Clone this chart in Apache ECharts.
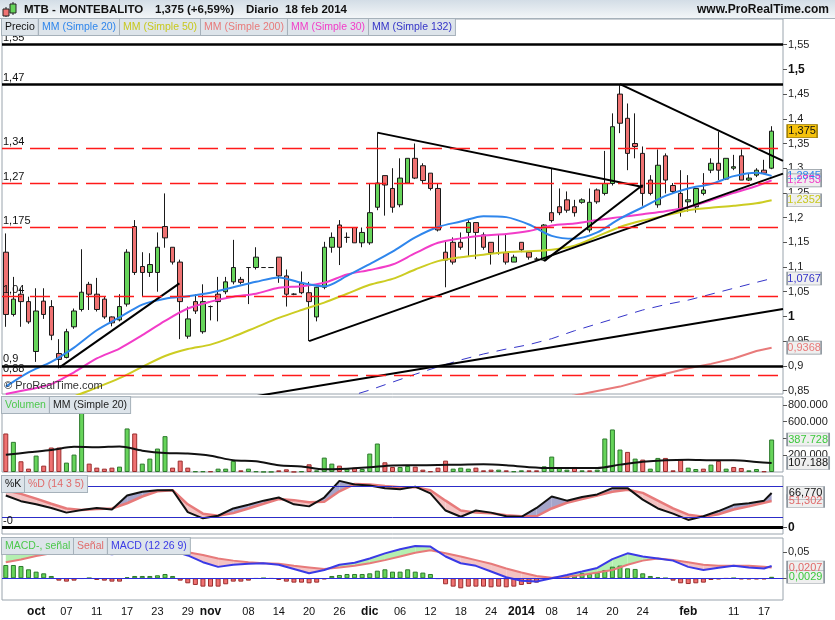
<!DOCTYPE html>
<html>
<head>
<meta charset="utf-8">
<title>MTB - MONTEBALITO</title>
<script src="https://cdn.jsdelivr.net/npm/echarts@6/dist/echarts.min.js"></script>
<style>
  html, body { margin: 0; padding: 0; background: #fff; }
  #chart { width: 835px; height: 620px; }
</style>
</head>
<body>
<div id="chart"></div>
<script>
// trading days shown (Sep 25 2013 -> Feb 18 2014)
const sepDays = [25, 26, 27, 30];
const octDays = [1, 2, 3, 4, 7, 8, 9, 10, 11, 14, 15, 16, 17, 18, 21, 22, 23, 24, 25, 28, 29, 30, 31];
const novDays = [1, 4, 5, 6, 7, 8, 11, 12, 13, 14, 15, 18, 19, 20, 21, 22, 25, 26, 27, 28, 29];
const decDays = [2, 3, 4, 5, 6, 9, 10, 11, 12, 13, 16, 17, 18, 19, 20, 23, 24, 27, 30, 31];
const janDays = [2, 3, 6, 7, 8, 9, 10, 13, 14, 15, 16, 17, 20, 21, 22, 23, 24, 27, 28, 29, 30, 31];
const febDays = [3, 4, 5, 6, 7, 10, 11, 12, 13, 14, 17, 18];

const xTickIdx = [4, 8, 12, 16, 20, 24, 27, 32, 36, 40, 44, 48, 52, 56, 60, 64, 68, 72, 76, 80, 84, 90, 96, 100];
const xTickText = ['oct', '07', '11', '17', '23', '29', 'nov', '08', '14', '20', '26', 'dic', '06', '12', '18', '24', '2014', '08', '14', '20', '24', 'feb', '11', '17'];

// daily candles
const opens = [1.130, 1.004, 1.045, 1.030, 0.929, 1.031, 1.020, 0.925, 0.917, 0.979,
  1.014, 1.065, 1.045, 1.035, 0.999, 0.993, 1.025, 1.182, 1.101, 1.089,
  1.089, 1.182, 1.140, 1.110, 0.960, 1.030, 0.969, 1.020, 1.045, 1.050,
  1.070, 1.075, 1.099, 1.099, 1.099, 1.099, 1.120, 1.082, 1.045, 1.067,
  1.048, 0.999, 1.059, 1.140, 1.185, 1.160, 1.180, 1.149, 1.149, 1.221,
  1.285, 1.259, 1.226, 1.270, 1.320, 1.305, 1.290, 1.259, 1.130, 1.150,
  1.150, 1.170, 1.190, 1.165, 1.150, 1.129, 1.129, 1.110, 1.150, 1.130,
  1.116, 1.114, 1.210, 1.222, 1.236, 1.222, 1.231, 1.175, 1.256, 1.249,
  1.269, 1.450, 1.401, 1.350, 1.330, 1.276, 1.226, 1.325, 1.265, 1.249,
  1.232, 1.222, 1.249, 1.296, 1.310, 1.278, 1.300, 1.325, 1.276, 1.286,
  1.296, 1.300];
const closes = [1.004, 1.035, 1.030, 0.989, 1.011, 1.004, 0.962, 0.913, 0.969, 1.011,
  1.049, 1.045, 1.014, 0.999, 0.987, 1.020, 1.130, 1.089, 1.089, 1.105,
  1.140, 1.159, 1.110, 1.030, 0.995, 1.011, 1.030, 1.020, 1.030, 1.070,
  1.099, 1.069, 1.099, 1.120, 1.099, 1.099, 1.082, 1.045, 1.045, 1.048,
  1.030, 1.059, 1.140, 1.160, 1.140, 1.160, 1.149, 1.170, 1.210, 1.270,
  1.266, 1.221, 1.280, 1.320, 1.280, 1.275, 1.259, 1.175, 1.114, 1.110,
  1.140, 1.190, 1.170, 1.140, 1.129, 1.129, 1.110, 1.120, 1.135, 1.120,
  1.116, 1.185, 1.194, 1.210, 1.215, 1.210, 1.236, 1.231, 1.232, 1.269,
  1.384, 1.391, 1.330, 1.344, 1.249, 1.249, 1.306, 1.276, 1.253, 1.215,
  1.236, 1.259, 1.256, 1.310, 1.296, 1.320, 1.303, 1.276, 1.280, 1.296,
  1.290, 1.375];
const lows = [0.979, 1.000, 0.979, 0.985, 0.908, 0.995, 0.952, 0.895, 0.915, 0.975,
  1.010, 1.013, 1.010, 0.995, 0.980, 0.990, 1.020, 1.084, 1.040, 1.080,
  1.050, 1.139, 1.105, 0.954, 0.955, 1.005, 0.965, 0.992, 0.990, 1.045,
  1.065, 1.065, 1.025, 1.095, 1.098, 1.098, 1.068, 1.020, 1.043, 1.045,
  0.950, 0.990, 1.055, 1.129, 1.104, 1.149, 1.149, 1.140, 1.145, 1.215,
  1.204, 1.210, 1.221, 1.270, 1.278, 1.270, 1.255, 1.172, 1.059, 1.105,
  1.135, 1.121, 1.116, 1.135, 1.105, 1.125, 1.105, 1.110, 1.130, 1.115,
  1.115, 1.112, 1.190, 1.205, 1.210, 1.202, 1.228, 1.170, 1.228, 1.245,
  1.265, 1.371, 1.296, 1.320, 1.224, 1.245, 1.220, 1.249, 1.250, 1.202,
  1.212, 1.210, 1.245, 1.290, 1.276, 1.276, 1.296, 1.276, 1.274, 1.282,
  1.288, 1.298];
const highs = [1.168, 1.080, 1.057, 1.040, 1.057, 1.057, 1.033, 0.954, 0.975, 1.016,
  1.136, 1.070, 1.078, 1.040, 1.000, 1.045, 1.136, 1.195, 1.130, 1.128,
  1.170, 1.249, 1.140, 1.115, 1.020, 1.045, 1.065, 1.022, 1.080, 1.080,
  1.155, 1.080, 1.100, 1.140, 1.100, 1.100, 1.120, 1.095, 1.047, 1.091,
  1.070, 1.060, 1.151, 1.170, 1.195, 1.170, 1.180, 1.180, 1.270, 1.372,
  1.285, 1.300, 1.320, 1.320, 1.350, 1.310, 1.290, 1.269, 1.151, 1.160,
  1.170, 1.195, 1.190, 1.170, 1.150, 1.165, 1.165, 1.125, 1.150, 1.130,
  1.120, 1.187, 1.300, 1.259, 1.253, 1.236, 1.239, 1.259, 1.259, 1.335,
  1.411, 1.468, 1.431, 1.411, 1.344, 1.286, 1.338, 1.330, 1.270, 1.296,
  1.286, 1.259, 1.290, 1.320, 1.374, 1.320, 1.327, 1.338, 1.290, 1.300,
  1.317, 1.385];

// moving averages, read at these candle positions
const maIdx = [0, 3, 6, 9, 12, 15, 18, 21, 24, 27, 30, 33, 36, 39, 42, 45, 48, 51, 54, 57,
  60, 63, 66, 69, 72, 75, 78, 81, 84, 87, 90, 93, 96, 99, 101];
const ma20 = [0.858, 0.887, 0.908, 0.937, 0.972, 0.998, 1.024, 1.036, 1.041, 1.048,
  1.059, 1.070, 1.079, 1.068, 1.061, 1.082, 1.106, 1.131, 1.160, 1.181,
  1.192, 1.203, 1.201, 1.186, 1.163, 1.157, 1.170, 1.198, 1.221, 1.244,
  1.259, 1.268, 1.284, 1.291, 1.2845];
const ma30 = [0.843, 0.852, 0.863, 0.887, 0.915, 0.935, 0.962, 0.991, 1.016, 1.030,
  1.040, 1.046, 1.058, 1.061, 1.068, 1.085, 1.094, 1.105, 1.128, 1.149,
  1.158, 1.164, 1.167, 1.173, 1.184, 1.188, 1.195, 1.201, 1.207, 1.213,
  1.221, 1.235, 1.250, 1.264, 1.2753];
const ma50 = [null, null, 0.818, 0.838, 0.856, 0.875, 0.898, 0.920, 0.934, 0.943,
  0.959, 0.978, 0.997, 1.013, 1.028, 1.046, 1.064, 1.076, 1.095, 1.112,
  1.120, 1.125, 1.130, 1.132, 1.135, 1.143, 1.162, 1.181, 1.194, 1.204,
  1.215, 1.220, 1.224, 1.229, 1.2352];
const ma132 = [null, null, null, null, null, null, null, null, null, null,
  null, null, null, null, 0.825, 0.837, 0.851, 0.867, 0.883, 0.898,
  0.912, 0.924, 0.934, 0.943, 0.955, 0.971, 0.985, 0.999, 1.013, 1.024,
  1.033, 1.045, 1.057, 1.069, 1.0767];
const ma200 = [null, null, null, null, null, null, null, null, null, null,
  null, null, null, null, null, null, null, null, null, null,
  null, null, null, null, 0.832, 0.840, 0.849, 0.858, 0.871, 0.884,
  0.895, 0.904, 0.915, 0.930, 0.9368];

// hand drawn lines on the price panel: [candle, price] start and end
const trendLines = [
  [[7.1, 0.897], [22.9, 1.067]],
  [[49, 1.372], [84, 1.262]],
  [[81, 1.470], [102.5, 1.315]],
  [[40, 0.950], [102.5, 1.289]],
  [[71, 1.112], [84, 1.266]],
  [[30, 0.831], [102.5, 1.015]]
];
const levelSolid = [1.55, 1.47, 0.9];
const levelDashed = [1.34, 1.27, 1.175, 1.04, 0.88];
const priceTicks = [0.85, 0.9, 0.95, 1, 1.05, 1.1, 1.15, 1.2, 1.25, 1.3, 1.35, 1.4, 1.45, 1.5, 1.55];

// volume
const volume = [460000, 360000, 128000, 40000, 196000, 76000, 292000, 292000, 112000, 208000,
  740000, 100000, 52000, 40000, 52000, 64000, 520000, 460000, 100000, 160000,
  280000, 428000, 52000, 136000, 52000, 8000, 8000, 8000, 40000, 40000,
  132000, 20000, 40000, 8000, 2000, 2000, 20000, 32000, 2000, 8000,
  92000, 20000, 172000, 100000, 76000, 36000, 52000, 36000, 220000, 340000,
  116000, 60000, 60000, 72000, 64000, 28000, 8000, 52000, 136000, 40000,
  52000, 40000, 52000, 20000, 28000, 28000, 20000, 8000, 20000, 20000,
  20000, 68000, 184000, 52000, 28000, 60000, 20000, 20000, 28000, 400000,
  508000, 268000, 240000, 160000, 148000, 40000, 168000, 168000, 20000, 148000,
  52000, 36000, 40000, 88000, 132000, 40000, 60000, 48000, 20000, 36000,
  8000, 387728];
const volUp = [0, 1, 0, 0, 1, 0, 0, 0, 1, 1,
  1, 0, 0, 0, 0, 1, 1, 0, 1, 1,
  1, 1, 0, 0, 0, 1, 1, 0, 1, 1,
  1, 0, 1, 1, 1, 1, 0, 0, 0, 1,
  0, 1, 1, 1, 0, 1, 0, 1, 1, 1,
  0, 0, 1, 1, 0, 0, 0, 0, 0, 1,
  1, 1, 0, 0, 0, 1, 0, 1, 1, 0,
  0, 1, 1, 1, 1, 0, 1, 0, 1, 1,
  1, 1, 0, 1, 0, 1, 1, 0, 0, 0,
  1, 1, 0, 1, 0, 1, 0, 0, 1, 1,
  0, 1];
const volMa20 = [205000, 235000, 262000, 300000, 295000, 305000, 255000, 226000, 220000, 195000,
  140000, 128000, 80000, 66000, 32000, 40000, 56000, 78000, 80000, 84000,
  88000, 92000, 80000, 58000, 48000, 48000, 48000, 88000, 122000, 140000,
  146000, 140000, 140000, 120000, 107188];

// stochastic and MACD, read at these candle positions
const oscIdx = [0, 2, 4, 6, 8, 10, 12, 14, 16, 18, 20, 22, 24, 26, 28, 30, 32, 34, 36, 38,
  40, 42, 44, 46, 48, 50, 52, 54, 56, 58, 60, 62, 64, 66, 68, 70, 72, 74, 76, 78,
  80, 82, 84, 86, 88, 90, 92, 94, 96, 98, 100, 101];
const stochK = [62, 51, 45, 38, 29, 34, 38, 35, 62, 69, 72, 72, 30, 18, 23, 37, 44, 52, 58, 45,
  41, 58, 90, 83, 81, 76, 74, 79, 66, 33, 21, 33, 29, 22, 21, 38, 60, 52, 59, 64,
  76, 76, 54, 37, 27, 15, 22, 32, 44, 47, 52, 66.77];
const stochD = [72, 65, 56, 46, 37, 34, 36, 37, 47, 60, 70, 72, 45, 27, 23, 28, 37, 46, 55, 53,
  49, 50, 70, 84, 83, 80, 78, 78, 72, 52, 33, 29, 28, 24, 22, 22, 37, 48, 55, 62,
  69, 73, 67, 52, 37, 25, 21, 26, 35, 41, 48, 51.302];
const macdLine = [0.056, 0.057, 0.056, 0.053, 0.049, 0.051, 0.050, 0.046, 0.050, 0.053,
  0.055, 0.053, 0.044, 0.031, 0.022, 0.026, 0.028, 0.029, 0.026, 0.018,
  0.0096, 0.016, 0.026, 0.030, 0.038, 0.048, 0.056, 0.062, 0.061, 0.042,
  0.029, 0.024, 0.013, 0.002, -0.0045, -0.006, 0.000, 0.0064, 0.013, 0.020,
  0.037, 0.048, 0.042, 0.038, 0.034, 0.022, 0.016, 0.0205, 0.024, 0.021,
  0.019, 0.0236];
const macdSignal = [0.031, 0.036, 0.043, 0.048, 0.052, 0.052, 0.053, 0.052, 0.050, 0.050,
  0.050, 0.051, 0.050, 0.045, 0.038, 0.034, 0.031, 0.029, 0.028, 0.024,
  0.021, 0.018, 0.021, 0.024, 0.029, 0.035, 0.042, 0.049, 0.054, 0.048,
  0.042, 0.035, 0.028, 0.019, 0.011, 0.0045, 0.0013, 0.0032, 0.0064, 0.011,
  0.016, 0.026, 0.034, 0.038, 0.035, 0.031, 0.026, 0.024, 0.024, 0.024,
  0.022, 0.0207];
const macdHist = [0.0256, 0.0256, 0.0237, 0.0173, 0.0128, 0.0096, 0.0045, -0.0045, -0.0064, -0.0045,
  -0.0008, 0.0006, -0.0032, -0.0045, -0.0064, -0.0064, 0.0019, 0.0045, 0.0045, 0.0045,
  0.0058, 0.0083, 0.0045, -0.0045, -0.0096, -0.0128, -0.016, -0.016, -0.016, -0.0115,
  -0.0064, -0.0064, -0.0045, -0.0006, 0.0004, -0.0006, -0.0032, -0.0064, -0.0083, -0.0083,
  -0.0096, -0.0083, -0.002, 0.0045, 0.0064, 0.0083, 0.0083, 0.0083, 0.0096, 0.0147,
  0.0173, 0.0128, 0.0128, 0.0173, 0.0128, 0.011, 0.0083, -0.001, -0.0115, -0.016,
  -0.0192, -0.016, -0.016, -0.016, -0.0173, -0.016, -0.0173, -0.016, -0.0128, -0.011,
  -0.0083, -0.0006, 0.0006, 0.0012, 0.0032, 0.0064, 0.0096, 0.0083, 0.011, 0.016,
  0.0224, 0.0244, 0.0192, 0.018, 0.0096, 0.0045, 0.0019, 0.0004, -0.0045, -0.0096,
  -0.011, -0.0096, -0.0083, -0.0032, -0.002, -0.0005, 0.0005, -0.002, -0.002, -0.002,
  -0.002, 0.0029];

const FONT = 'Liberation Sans, Arial, sans-serif';
const GREEN = '#66d45a', RED = '#ef7272';
const BLUE20 = '#2f86ec', YEL50 = '#cccc22', SAL200 = '#e87a7a', MAG30 = '#f23cc8', BLUE132 = '#3434c8';

const pad2 = n => (n < 10 ? '0' : '') + n;
const dates = [].concat(
  sepDays.map(d => '2013-09-' + pad2(d)), octDays.map(d => '2013-10-' + pad2(d)),
  novDays.map(d => '2013-11-' + pad2(d)), decDays.map(d => '2013-12-' + pad2(d)),
  janDays.map(d => '2014-01-' + pad2(d)), febDays.map(d => '2014-02-' + pad2(d)));
const cats = dates.concat(['']); // one empty slot on the right, like the reference
const last = dates.length - 1;

const fmt = v => String(+(+v).toFixed(4)).replace('.', ',');
const fmtThousands = v => String(Math.round(v)).replace(/\B(?=(\d{3})+(?!\d))/g, '.');
const zip = (idx, vals) => idx.map((x, j) => [x, vals[j]]);
const tail = a => a[a.length - 1];

function box(v, text, color, w, fill, border) {
  return {
    coord: [last, v], symbol: 'rect', symbolSize: [w, 13], symbolOffset: [15.5 + w / 2, 0],
    itemStyle: { color: fill || '#efefef', borderColor: border || '#8d969e', borderWidth: 1 },
    label: { show: true, position: 'inside', formatter: text, color: color, fontSize: 11, fontFamily: FONT }
  };
}

// fill between two lines, split where they cross
function bandData(idx, a, b) {
  return idx.slice(0, -1).map((x, j) => [x, idx[j + 1], a[j], a[j + 1], b[j], b[j + 1]]);
}
function bandRender(upColor, downColor) {
  return function (params, api) {
    const x0 = api.value(0), x1 = api.value(1);
    const a0 = api.value(2), a1 = api.value(3), b0 = api.value(4), b1 = api.value(5);
    const d0 = a0 - b0, d1 = a1 - b1;
    const polys = [];
    if (d0 * d1 >= 0) {
      polys.push({ pts: [[x0, a0], [x1, a1], [x1, b1], [x0, b0]], up: d0 + d1 >= 0 });
    } else {
      const t = d0 / (d0 - d1);
      const xc = x0 + t * (x1 - x0), yc = a0 + t * (a1 - a0);
      polys.push({ pts: [[x0, a0], [xc, yc], [x0, b0]], up: d0 > 0 });
      polys.push({ pts: [[xc, yc], [x1, a1], [x1, b1]], up: d1 > 0 });
    }
    return {
      type: 'group',
      children: polys.map(p => ({
        type: 'polygon',
        shape: { points: p.pts.map(q => api.coord(q)) },
        style: { fill: p.up ? upColor : downColor, stroke: null }
      }))
    };
  };
}

const gridBase = { left: 2, width: 781, show: true, borderColor: '#9aa4ad', borderWidth: 1, backgroundColor: '#fff' };
const catAxis = (gi, labels) => ({
  type: 'category', gridIndex: gi, data: cats, boundaryGap: true,
  axisLine: { show: false, onZero: false }, axisTick: { show: false }, splitLine: { show: false },
  axisLabel: labels ? {
    interval: idx => xTickIdx.indexOf(idx) >= 0,
    formatter: (val, idx) => {
      const k = xTickIdx.indexOf(idx);
      if (k < 0) return '';
      const t = xTickText[k];
      return /^\d\d$/.test(t) ? t : '{m|' + t + '}';
    },
    rich: { m: { fontWeight: 'bold', fontSize: 12, fontFamily: FONT, color: '#111' } },
    fontSize: 11, fontFamily: FONT, color: '#111', margin: 6
  } : { show: false }
});
const valAxis = gi => ({ type: 'value', gridIndex: gi, min: -0.5, max: cats.length - 0.5, show: false, axisLine: { onZero: false } });
const yBase = (gi, min, max, ticks, formatter) => ({
  type: 'value', gridIndex: gi, position: 'right', min: min, max: max,
  splitLine: { show: false }, axisLine: { show: false, onZero: false },
  axisTick: { show: true, length: 4, lineStyle: { color: '#555' }, customValues: ticks },
  axisLabel: {
    customValues: ticks, formatter: formatter, fontSize: 11, fontFamily: FONT, color: '#222', margin: 5,
    showMinLabel: true, showMaxLabel: true,
    rich: { b: { fontWeight: 'bold', fontSize: 12, fontFamily: FONT, color: '#111' } }
  }
});

const lineS = (xi, yi, data, color, width, extra) => Object.assign({
  type: 'line', xAxisIndex: xi, yAxisIndex: yi, data: data, symbol: 'none', showSymbol: false,
  lineStyle: { color: color, width: width }, silent: true, clip: true, connectNulls: false
}, extra || {});

const levelLines = levelSolid.map(v => ({
  yAxis: v, lineStyle: { color: '#000', width: 2.5, type: 'solid' }, label: { formatter: fmt(v) }
})).concat(levelDashed.map(v => ({
  yAxis: v, lineStyle: { color: '#ff1a1a', width: 1.3, type: [20, 8] }, label: { formatter: fmt(v) }
})));

const series = [
  {
    type: 'candlestick', xAxisIndex: 0, yAxisIndex: 0, barWidth: 5, silent: true,
    data: opens.map((o, i) => [o, closes[i], lows[i], highs[i]]),
    itemStyle: { color: GREEN, color0: RED, borderColor: '#1a1a1a', borderColor0: '#1a1a1a', borderColorDoji: '#1a1a1a', borderWidth: 1 },
    markLine: {
      symbol: 'none', silent: true, animation: false, data: levelLines,
      label: { show: true, position: 'insideStartTop', distance: [1, 1], color: '#111', fontSize: 11, fontFamily: FONT }
    },
    z: 2
  },
  lineS(4, 0, zip(maIdx, ma200), SAL200, 2, { z: 3 }),
  lineS(4, 0, zip(maIdx, ma132), BLUE132, 1, { z: 3, lineStyle: { color: BLUE132, width: 1, type: [10, 8] } }),
  lineS(4, 0, zip(maIdx, ma50), YEL50, 2, { z: 3, smooth: 0.3 }),
  lineS(4, 0, zip(maIdx, ma30), MAG30, 2, { z: 3, smooth: 0.3 }),
  lineS(4, 0, zip(maIdx, ma20), BLUE20, 2, { z: 3, smooth: 0.3 })
];
trendLines.forEach((seg, k) => {
  const s = lineS(4, 0, seg, '#000', 2, { z: 4 });
  if (k === trendLines.length - 1) {
    s.markPoint = {
      silent: true, animation: false,
      data: [
        box(tail(ma200), fmt(tail(ma200)), SAL200, 34),
        box(tail(ma132), fmt(tail(ma132)), BLUE132, 34),
        box(tail(ma50), fmt(tail(ma50)), '#c8c81e', 34),
        box(tail(ma20), fmt(tail(ma20)), BLUE20, 34),
        box(tail(ma30), fmt(tail(ma30)), MAG30, 34),
        box(tail(closes), fmt(tail(closes)), '#111', 30, '#f5c20c', '#9a7a00')
      ]
    };
  }
  series.push(s);
});

// volume panel
series.push({
  type: 'bar', xAxisIndex: 1, yAxisIndex: 1, barWidth: 5, silent: true,
  data: volume.map((v, i) => ({
    value: v,
    itemStyle: { color: volUp[i] ? GREEN : RED, borderColor: volUp[i] ? '#2d7a2d' : '#9b2e2e', borderWidth: 1 }
  }))
});
series.push(lineS(5, 1, zip(maIdx, volMa20), '#111', 2, {
  smooth: 0.3, z: 3,
  markPoint: {
    silent: true, animation: false,
    data: [
      box(tail(volume), fmtThousands(tail(volume)), '#3cc83c', 42),
      box(tail(volMa20), fmtThousands(tail(volMa20)), '#111', 42)
    ]
  }
}));

// stochastic panel
series.push({
  type: 'custom', xAxisIndex: 6, yAxisIndex: 2, silent: true, z: 2,
  data: bandData(oscIdx, stochK, stochD), encode: { x: [0, 1], y: [2, 3, 4, 5] },
  renderItem: bandRender('#a5a5cb', '#f4c3c3')
});
series.push(lineS(6, 2, zip(oscIdx, stochD), '#e77a7a', 2.5, {
  z: 3,
  markLine: {
    symbol: 'none', silent: true, animation: false,
    data: [
      { yAxis: 80, lineStyle: { color: '#2c2cc8', width: 1, type: 'solid' }, label: { show: false } },
      { yAxis: 20, lineStyle: { color: '#2c2cc8', width: 1, type: 'solid' }, label: { show: false } },
      { yAxis: 0, lineStyle: { color: '#000', width: 3, type: 'solid' },
        label: { show: true, formatter: '-0', position: 'insideStartTop', distance: [1, 1], color: '#111', fontSize: 11, fontFamily: FONT } }
    ]
  }
}));
series.push(lineS(6, 2, zip(oscIdx, stochK), '#111', 2, {
  z: 4,
  markPoint: {
    silent: true, animation: false,
    data: [
      box(tail(stochD), tail(stochD).toFixed(3).replace('.', ','), '#e06a6a', 37),
      box(tail(stochK), tail(stochK).toFixed(3).replace('.', ','), '#111', 37)
    ]
  }
}));

// MACD panel
series.push({
  type: 'bar', xAxisIndex: 3, yAxisIndex: 3, barWidth: 5, silent: true,
  data: macdHist.map(v => ({
    value: v,
    itemStyle: { color: v >= 0 ? GREEN : RED, borderColor: v >= 0 ? '#2d7a2d' : '#9b2e2e', borderWidth: 1 }
  })),
  markLine: {
    symbol: 'none', silent: true, animation: false,
    data: [{ yAxis: 0, lineStyle: { color: '#2c2cdc', width: 1.2, type: 'solid' }, label: { show: false } }]
  }
});
series.push({
  type: 'custom', xAxisIndex: 7, yAxisIndex: 3, silent: true, z: 2,
  data: bandData(oscIdx, macdLine, macdSignal), encode: { x: [0, 1], y: [2, 3, 4, 5] },
  renderItem: bandRender('#b4efb0', '#f4c3c3')
});
series.push(lineS(7, 3, zip(oscIdx, macdSignal), '#e77a7a', 2, { z: 3 }));
series.push(lineS(7, 3, zip(oscIdx, macdLine), '#3a3ae6', 2, {
  z: 4,
  markPoint: {
    silent: true, animation: false,
    data: [
      box(tail(macdSignal), fmt(tail(macdSignal)), '#e06a6a', 37),
      box(tail(macdHist), fmt(tail(macdHist)), '#3cc83c', 37)
    ]
  }
}));

// legend boxes drawn as chained text chips
const measure = (() => {
  const ctx = document.createElement('canvas').getContext('2d');
  return (t, font) => { ctx.font = font; return ctx.measureText(t).width; };
})();
const CHIP_FONT = '10.5px ' + FONT;
function chips(items, x0, y0) {
  let x = x0;
  return items.map(([t, c]) => {
    const el = {
      type: 'text', x: x, y: y0, z: 100, silent: true,
      style: {
        text: t, fill: c, font: CHIP_FONT, backgroundColor: '#dde4ea', borderColor: '#a6b1ba', borderWidth: 1,
        padding: [3, 3, 2, 3]
      }
    };
    x += Math.round(measure(t, CHIP_FONT)) + 7;
    return el;
  });
}
const HEAD_FONT = 'bold 11.5px ' + FONT;
function headTexts(items, x0, y0, gap) {
  let x = x0;
  return items.map(t => {
    const el = { type: 'text', x: x, y: y0, z: 95, silent: true, style: { text: t, font: HEAD_FONT, fill: '#111', verticalAlign: 'middle' } };
    x += Math.round(measure(t, HEAD_FONT)) + gap;
    return el;
  });
}

const graphic = [
  {
    type: 'rect', shape: { x: 0, y: 0, width: 835, height: 18 }, z: 90, silent: true,
    style: { fill: new echarts.graphic.LinearGradient(0, 0, 0, 1, [{ offset: 0, color: '#d3dde6' }, { offset: 1, color: '#f3f6f8' }]) }
  },
  { type: 'line', shape: { x1: 0, y1: 18.5, x2: 835, y2: 18.5 }, z: 91, silent: true, style: { stroke: '#a6b1ba', lineWidth: 1 } },
  { type: 'line', shape: { x1: 6, y1: 7, x2: 6, y2: 17 }, z: 92, silent: true, style: { stroke: '#222', lineWidth: 1 } },
  { type: 'rect', shape: { x: 3, y: 9, width: 6, height: 7 }, z: 93, silent: true, style: { fill: RED, stroke: '#222', lineWidth: 1 } },
  { type: 'line', shape: { x1: 13, y1: 2, x2: 13, y2: 15 }, z: 92, silent: true, style: { stroke: '#222', lineWidth: 1 } },
  { type: 'rect', shape: { x: 10, y: 4, width: 6, height: 9 }, z: 93, silent: true, style: { fill: GREEN, stroke: '#222', lineWidth: 1 } },
  { type: 'text', x: 829, y: 10, z: 95, silent: true, style: { text: 'www.ProRealTime.com', font: 'bold 12px ' + FONT, fill: '#111', align: 'right', verticalAlign: 'middle' } },
  { type: 'text', x: 4, y: 386, z: 95, silent: true, style: { text: '© ProRealTime.com', font: '11px ' + FONT, fill: '#333', verticalAlign: 'middle' } }
].concat(
  headTexts(['MTB - MONTEBALITO', '1,375 (+6,59%)', 'Diario  18 feb 2014'], 24, 10, 12),
  chips([['Precio', '#111'], ['MM (Simple 20)', BLUE20], ['MM (Simple 50)', '#c8c81e'], ['MM (Simple 200)', SAL200],
    ['MM (Simple 30)', MAG30], ['MM (Simple 132)', BLUE132]], 2, 19),
  chips([['Volumen', '#4cc84c'], ['MM (Simple 20)', '#222']], 2, 397),
  chips([['%K', '#111'], ['%D (14 3 5)', '#e06a6a']], 2, 476),
  chips([['MACD-, señal', '#4cc84c'], ['Señal', '#e06a6a'], ['MACD (12 26 9)', '#3a3ae6']], 2, 538)
);

const option = {
  animation: false,
  backgroundColor: '#fff',
  textStyle: { fontFamily: FONT },
  grid: [
    Object.assign({}, gridBase, { top: 19, height: 375 }),
    Object.assign({}, gridBase, { top: 397, height: 75 }),
    Object.assign({}, gridBase, { top: 476, height: 58 }),
    Object.assign({}, gridBase, { top: 538, height: 62 })
  ],
  xAxis: [catAxis(0, false), catAxis(1, false), catAxis(2, false), catAxis(3, true),
    valAxis(0), valAxis(1), valAxis(2), valAxis(3)],
  yAxis: [
    yBase(0, 0.843, 1.602, priceTicks, v => (Math.abs(v - 1.5) < 1e-9 || Math.abs(v - 1) < 1e-9) ? '{b|' + fmt(v) + '}' : fmt(v)),
    yBase(1, 0, 895500, [200000, 400000, 600000, 800000], v => fmtThousands(v)),
    yBase(2, -12.1, 99.4, [0], v => '{b|0}'),
    yBase(3, -0.0417, 0.0775, [0, 0.05], v => fmt(v))
  ],
  series: series,
  graphic: graphic
};

const chart = echarts.init(document.getElementById('chart'));
chart.setOption(option);
window.addEventListener('resize', () => chart.resize());
</script>
</body>
</html>
